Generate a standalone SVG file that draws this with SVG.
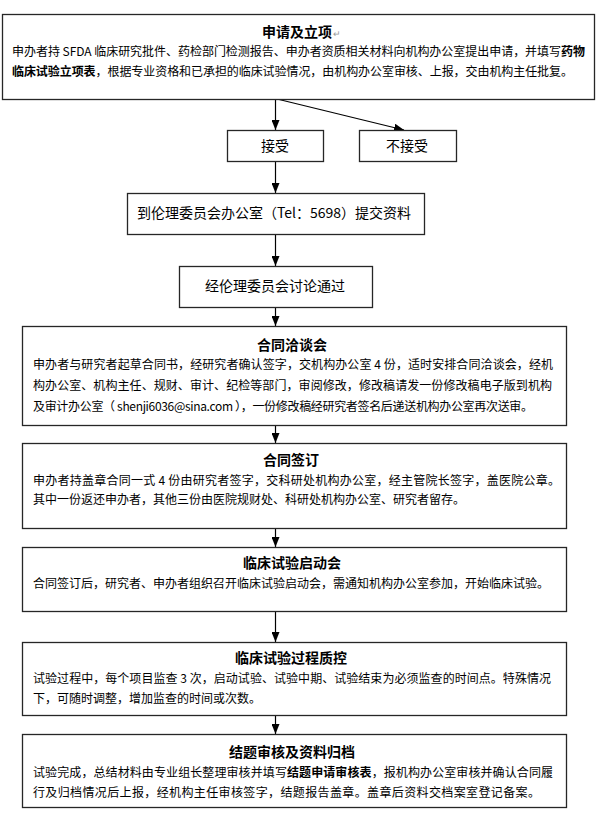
<svg xmlns="http://www.w3.org/2000/svg" width="600" height="813" viewBox="0 0 600 813">
<style>
text { font-family: "Noto Sans CJK SC", "Liberation Sans", sans-serif; fill: #000; }
.box { fill: #fff; stroke: #262626; stroke-width: 1.3; }
.t { font-size: 14px; font-weight: bold; text-anchor: middle; }
.l { font-size: 14px; text-anchor: middle; }
.b { font-size: 12px; }
.s { font-weight: bold; }
.mark { font-size: 9px; fill: #999; }
#connectors line { stroke: #000; stroke-width: 1.2; marker-end: url(#ah); }
</style>
<defs>
<marker id="ah" markerWidth="10" markerHeight="8" refX="10" refY="4" orient="auto" markerUnits="userSpaceOnUse">
<path d="M0,0 L10,4 L0,8 Z" fill="#000"/>
</marker>
</defs>
<rect width="600" height="813" fill="#fff"/>

<g id="connectors">
<line x1="275.5" y1="99" x2="275.5" y2="130"/>
<line x1="277" y1="99" x2="404" y2="130"/>
<line x1="275.5" y1="161" x2="275.5" y2="193"/>
<line x1="275.5" y1="234" x2="275.5" y2="266"/>
<line x1="275.5" y1="307" x2="275.5" y2="326"/>
<line x1="275.5" y1="425" x2="275.5" y2="443"/>
<line x1="275.5" y1="528" x2="275.5" y2="547"/>
<line x1="275.5" y1="611" x2="275.5" y2="642"/>
<line x1="275.5" y1="715" x2="275.5" y2="734"/>
</g>

<g id="apply">
<rect class="box" x="2.5" y="14.5" width="592" height="85"/>
<text class="t" x="297" y="37">申请及立项</text>
<text class="mark" x="333" y="37">↵</text>
<text class="b" x="12" y="56" textLength="573" lengthAdjust="spacing">申办者持 SFDA 临床研究批件、药检部门检测报告、申办者资质相关材料向机构办公室提出申请，并填写<tspan class="s">药物</tspan></text>
<text class="b" x="12" y="76" textLength="561" lengthAdjust="spacing"><tspan class="s">临床试验立项表</tspan>，根据专业资格和已承担的临床试验情况，由机构办公室审核、上报，交由机构主任批复。</text>
</g>

<g id="accept">
<rect class="box" x="227.5" y="130.5" width="96" height="31"/>
<text class="l" x="275" y="151">接受</text>
</g>

<g id="reject">
<rect class="box" x="359.5" y="130.5" width="97" height="31"/>
<text class="l" x="407" y="151">不接受</text>
</g>

<g id="ethics-submit">
<rect class="box" x="127.5" y="193.5" width="297" height="41"/>
<text class="l" x="274" y="218">到伦理委员会办公室（Tel：5698）提交资料</text>
</g>

<g id="ethics-pass">
<rect class="box" x="179.5" y="266.5" width="193" height="41"/>
<text class="l" x="275" y="291">经伦理委员会讨论通过</text>
</g>

<g id="negotiation">
<rect class="box" x="22.5" y="326.5" width="544" height="99"/>
<text class="t" x="292" y="350">合同洽谈会</text>
<text class="b" x="33" y="369" textLength="520" lengthAdjust="spacing">申办者与研究者起草合同书，经研究者确认签字，交机构办公室 4 份，适时安排合同洽谈会，经机</text>
<text class="b" x="33" y="390" textLength="519" lengthAdjust="spacing">构办公室、机构主任、规财、审计、纪检等部门，审阅修改，修改稿请发一份修改稿电子版到机构</text>
<text class="b" x="33" y="411" textLength="500" lengthAdjust="spacing">及审计办公室（ shenji6036@sina.com ），一份修改稿经研究者签名后递送机构办公室再次送审。</text>
</g>

<g id="signing">
<rect class="box" x="22.5" y="443.5" width="544" height="85"/>
<text class="t" x="291" y="465">合同签订</text>
<text class="b" x="33" y="485" textLength="527" lengthAdjust="spacing">申办者持盖章合同一式 4 份由研究者签字，交科研处机构办公室，经主管院长签字，盖医院公章。</text>
<text class="b" x="33" y="504">其中一份返还申办者，其他三份由医院规财处、科研处机构办公室、研究者留存。</text>
</g>

<g id="kickoff">
<rect class="box" x="22.5" y="547.5" width="544" height="64"/>
<text class="t" x="292" y="568">临床试验启动会</text>
<text class="b" x="33" y="588">合同签订后，研究者、申办者组织召开临床试验启动会，需通知机构办公室参加，开始临床试验。</text>
</g>

<g id="qc">
<rect class="box" x="22.5" y="642.5" width="544" height="73"/>
<text class="t" x="291" y="663">临床试验过程质控</text>
<text class="b" x="33" y="683" textLength="518" lengthAdjust="spacing">试验过程中，每个项目监查 3 次，启动试验、试验中期、试验结束为必须监查的时间点。特殊情况</text>
<text class="b" x="33" y="703">下，可随时调整，增加监查的时间或次数。</text>
</g>

<g id="closeout">
<rect class="box" x="22.5" y="734.5" width="544" height="73"/>
<text class="t" x="292" y="757">结题审核及资料归档</text>
<text class="b" x="33" y="777" textLength="520" lengthAdjust="spacing">试验完成，总结材料由专业组长整理审核并填写<tspan class="s">结题申请审核表</tspan>，报机构办公室审核并确认合同履</text>
<text class="b" x="33" y="797" textLength="507" lengthAdjust="spacing">行及归档情况后上报，经机构主任审核签字，结题报告盖章。盖章后资料交档案室登记备案。</text>
</g>
</svg>
